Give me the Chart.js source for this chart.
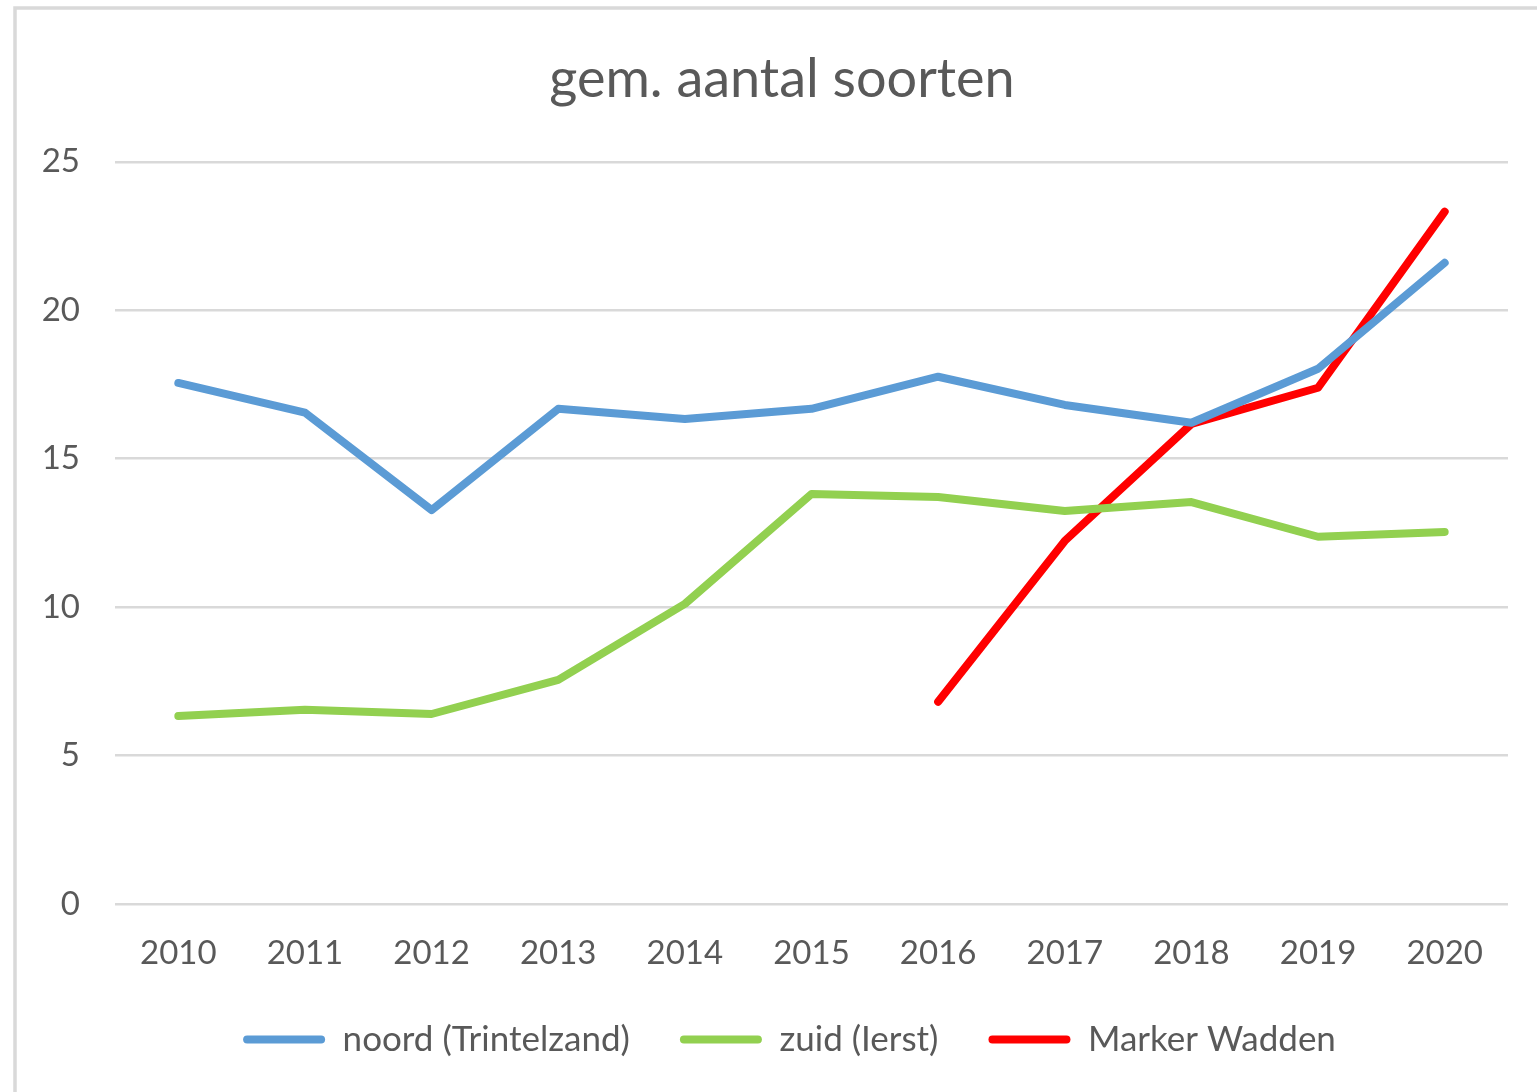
<!DOCTYPE html>
<html>
<head>
<meta charset="utf-8">
<script src="https://cdn.jsdelivr.net/npm/chart.js@4.4.1/dist/chart.umd.min.js"></script>
<style>
  html, body { margin: 0; padding: 0; background: #fff; }
  #wrap { width: 1537px; height: 1092px; }
</style>
</head>
<body>
<div id="wrap"><canvas id="chart" width="1537" height="1092"></canvas></div>
<script>
const years = ['2010', '2011', '2012', '2013', '2014', '2015', '2016', '2017', '2018', '2019', '2020'];
const noord = [17.55, 16.55, 13.27, 16.68, 16.34, 16.68, 17.76, 16.81, 16.21, 18.03, 21.6];
const zuid = [6.33, 6.54, 6.4, 7.55, 10.11, 13.81, 13.71, 13.24, 13.54, 12.37, 12.53];
const markerWadden = [null, null, null, null, null, null, 6.81, 12.23, 16.17, 17.39, 23.32];
const yTicks = [0, 5, 10, 15, 20, 25];

const FONT = 'Lato, "Open Sans", sans-serif';
const GREY = '#595959';

// light grey frame around the whole chart, like the Excel chart area
const frame = {
    id: 'frame',
    beforeDraw(chart) {
        const c = chart.ctx;
        c.save();
        c.fillStyle = '#fff';
        c.fillRect(0, 0, chart.width, chart.height);
        c.strokeStyle = '#d9d9d9';
        c.lineWidth = 3.5;
        c.strokeRect(15, 8, chart.width + 50, chart.height + 50);
        c.restore();
    }
};

// the Excel chart box runs past the right edge, so title and legend sit a bit right of the canvas centre
const recentre = {
    id: 'recentre',
    afterLayout(chart) {
        const t = chart.titleBlock;
        if (t) { t.left = 56; t.width = t.right - t.left; }
        const l = chart.legend;
        if (l) { l.left = 71; l.width = l.right - l.left; }
    }
};

function line(label, data, color) {
    return {
        label: label,
        data: data,
        borderColor: color,
        backgroundColor: color,
        borderWidth: 8,
        borderCapStyle: 'round',
        borderJoinStyle: 'round',
        pointRadius: 0,
        pointHoverRadius: 0,
        tension: 0,
        spanGaps: false
    };
}

new Chart(document.getElementById('chart'), {
    type: 'line',
    data: {
        labels: years,
        datasets: [
            line('noord (Trintelzand)', noord, '#5B9BD5'),
            line('zuid (Ierst)', zuid, '#92D050'),
            line('Marker Wadden', markerWadden, '#FF0000')
        ]
    },
    options: {
        responsive: false,
        animation: false,
        layout: { padding: { left: 0, right: 29, top: 0, bottom: 25 } },
        plugins: {
            title: {
                display: true,
                text: 'gem. aantal soorten',
                color: GREY,
                font: { family: FONT, size: 54, weight: 'normal' },
                padding: { top: 47, bottom: 50 }
            },
            legend: {
                position: 'bottom',
                labels: {
                    color: GREY,
                    font: { family: FONT, size: 35 },
                    boxWidth: 82,
                    boxHeight: 8,
                    padding: 50,
                    useBorderRadius: true,
                    borderRadius: 4,
                    generateLabels(chart) {
                        return chart.data.datasets.map((ds, i) => ({
                            text: ds.label,
                            fillStyle: ds.borderColor,
                            strokeStyle: ds.borderColor,
                            lineWidth: 0,
                            fontColor: GREY,
                            hidden: false,
                            datasetIndex: i,
                            borderRadius: 4
                        }));
                    }
                }
            },
            tooltip: { enabled: false }
        },
        scales: {
            x: {
                offset: true,
                grid: { display: false, drawTicks: false },
                border: { display: false },
                ticks: { color: GREY, font: { family: FONT, size: 33 }, padding: 30, maxRotation: 0 },
                afterFit(scale) { scale.height = 68; }
            },
            y: {
                min: 0,
                max: 25,
                afterBuildTicks(scale) { scale.ticks = yTicks.map(v => ({ value: v })); },
                grid: { color: '#d9d9d9', lineWidth: 2.5, drawTicks: false },
                border: { display: false },
                ticks: { color: GREY, font: { family: FONT, size: 33 }, padding: 35 },
                afterFit(scale) { scale.width = 115; }
            }
        }
    },
    plugins: [frame, recentre]
});
</script>
</body>
</html>
